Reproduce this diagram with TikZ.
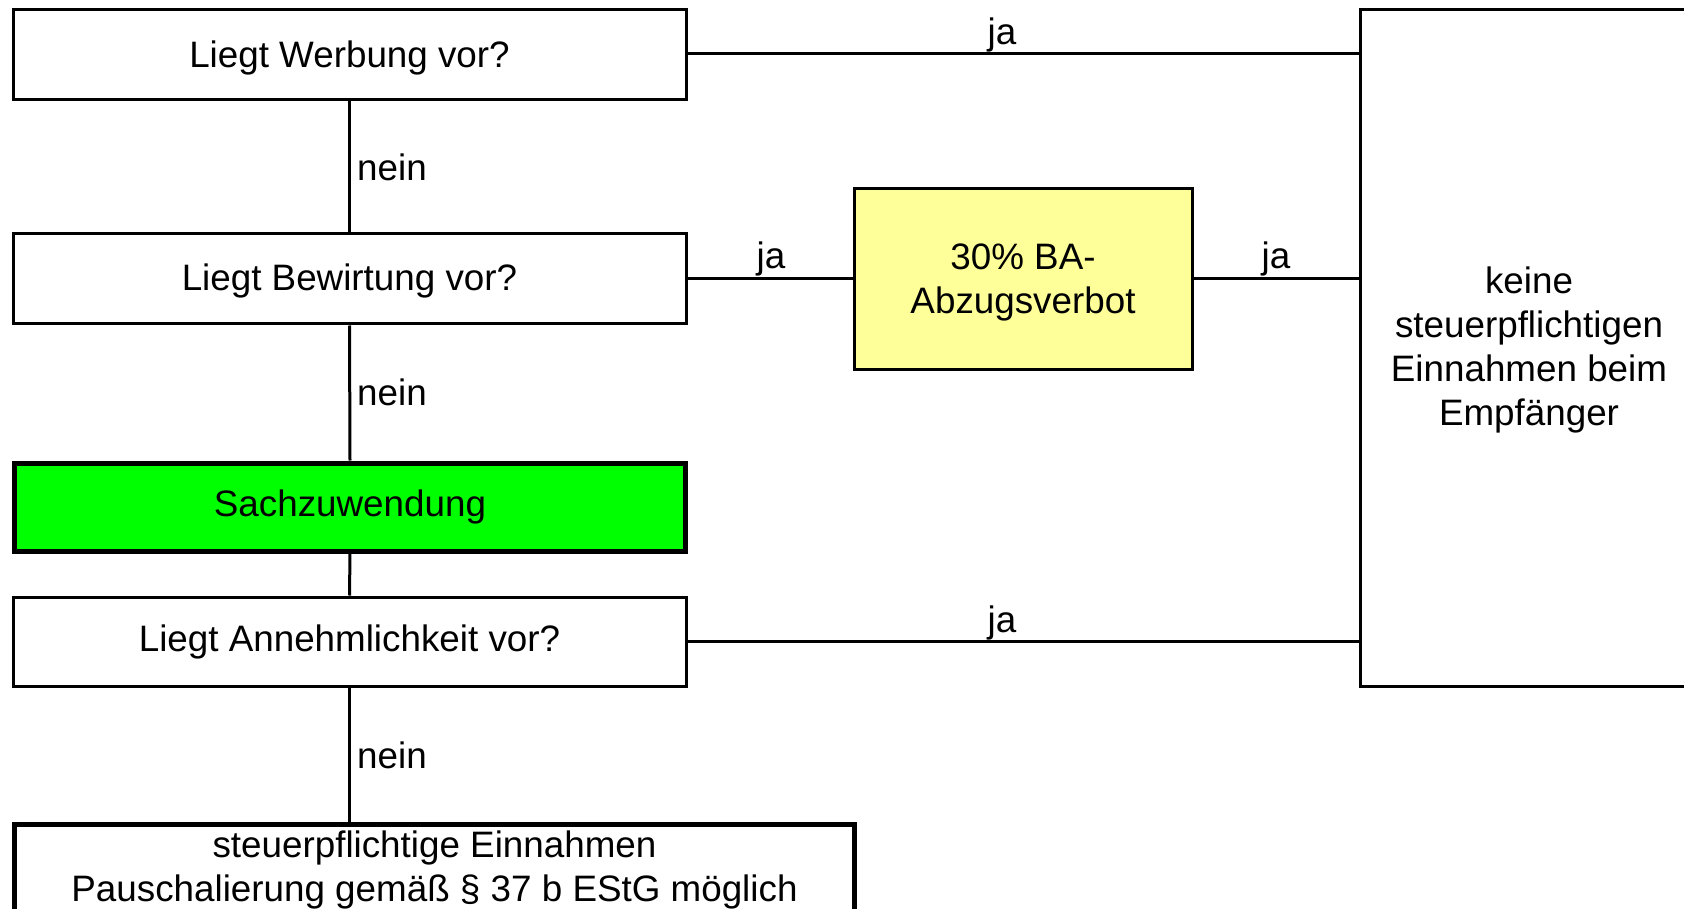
\documentclass[tikz,border=0pt]{standalone}
\usepackage{fontspec}
\setmainfont{Liberation Sans}
\definecolor{boxyellow}{HTML}{FFFF99}
\definecolor{boxgreen}{HTML}{00FF00}
\newcommand\mytstrut[1]{\rule{0pt}{#1}}
\begin{document}
\begin{tikzpicture}[x=1pt,y=-1pt,
  every node/.style={font=\fontsize{36.8}{44}\selectfont},
  qbox/.style={draw=black, line width=3pt, minimum width=673pt, minimum height=90pt, inner sep=0pt, align=center},
  thickbox/.style={draw=black, line width=5pt, minimum height=90pt, inner sep=0pt, align=center},
  conn/.style={line width=3pt},
  lbl/.style={inner sep=0pt}
]
\useasboundingbox (0,0) rectangle (1684,909);
\clip (0,0) rectangle (1684,909);
% boxes
\node[qbox] (werbung) at (349.5,55) {\mytstrut{32.5pt}Liegt Werbung vor?};
\node[qbox] (bewirtung) at (349.5,279) {\mytstrut{31pt}Liegt Bewirtung vor?};
\node[thickbox, fill=boxgreen, minimum width=671pt, minimum height=88pt] (sach) at (350,507) {Sachzuwendung};
\node[qbox, minimum height=89pt] (annehm) at (349.5,641.5) {\mytstrut{28.5pt}Liegt Annehmlichkeit vor?};
\node[thickbox, minimum width=840pt, minimum height=88pt] (stpfl) at (434.5,868) {\mytstrut{30.5pt}steuerpflichtige Einnahmen\\Pauschalierung gemäß § 37 b EStG möglich};
\node[qbox, fill=boxyellow, minimum width=338pt, minimum height=180pt] (ba) at (1023,279) {\mytstrut{32.5pt}30\% BA-\\Abzugsverbot};
\node[qbox, minimum width=338pt, minimum height=676pt] (keine) at (1529,348) {\mytstrut{31pt}keine\\steuerpflichtigen\\Einnahmen beim\\Empfänger};
% vertical connectors
\draw[conn] (werbung.south) -- (bewirtung.north);
\draw[conn] (bewirtung.south) -- (sach.north);
\draw[conn] (sach.south) -- (annehm.north);
\draw[conn] (annehm.south) -- (annehm.south |- stpfl.north);
% horizontal connectors
\coordinate (w1) at (werbung.east |- 0,54);
\draw[conn] (w1) -- (w1 -| keine.west);
\coordinate (b1) at (bewirtung.east |- 0,279);
\draw[conn] (b1) -- (b1 -| ba.west);
\draw[conn] (b1 -| ba.east) -- (b1 -| keine.west);
\coordinate (a1) at (annehm.east |- 0,641);
\draw[conn] (a1) -- (a1 -| keine.west);
% labels
\node[lbl, anchor=base west] (n1) at (357,181) {nein};
\node[lbl, anchor=base west] (n2) at (357,405) {nein};
\node[lbl, anchor=base west] (n3) at (357,768) {nein};
\node[lbl, anchor=base] (j1) at (1002,45) {ja};
\node[lbl, anchor=base] (j2) at (771,269) {ja};
\node[lbl, anchor=base] (j3) at (1276,269) {ja};
\node[lbl, anchor=base] (j4) at (1002,632) {ja};
\end{tikzpicture}
\end{document}
